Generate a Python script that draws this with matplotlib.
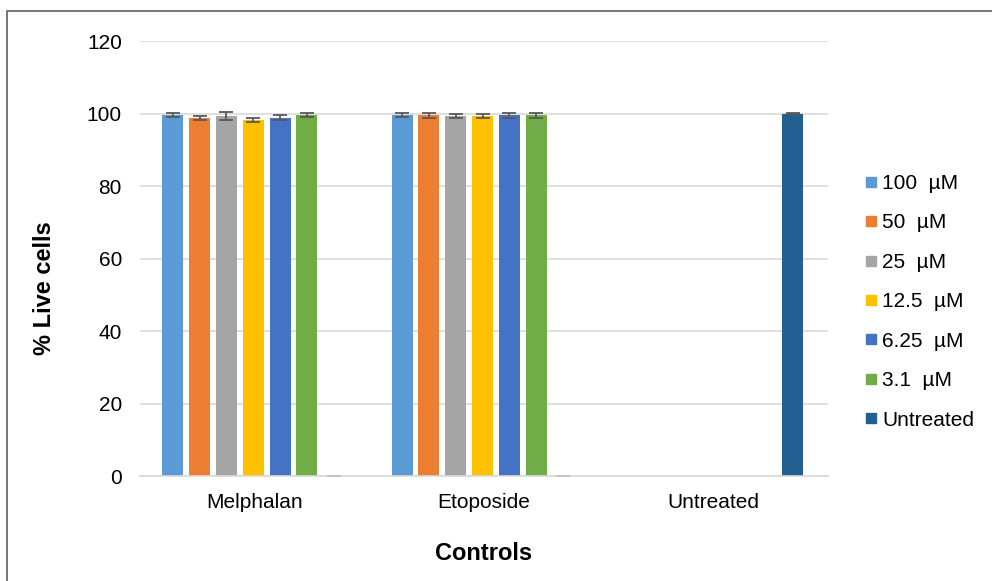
import numpy as np
import matplotlib
matplotlib.use('Agg')
import matplotlib.pyplot as plt
from matplotlib.lines import Line2D
from matplotlib.patches import Rectangle

plt.rcParams['font.family'] = ['Liberation Sans', 'DejaVu Sans']

categories = ['Melphalan', 'Etoposide', 'Untreated']
series = ['100  µM', '50  µM', '25  µM', '12.5  µM', '6.25  µM', '3.1  µM', 'Untreated']
colors = ['#5b9bd5', '#ed7d31', '#a5a5a5', '#ffc000', '#4472c4', '#70ad47', '#255e91']

# values per series: [Melphalan, Etoposide, Untreated]
vals_100 = [99.6, 99.6, np.nan]
vals_50 = [98.7, 99.5, np.nan]
vals_25 = [99.4, 99.4, np.nan]
vals_12 = [98.3, 99.4, np.nan]
vals_6 = [98.9, 99.5, np.nan]
vals_3 = [99.6, 99.5, np.nan]
vals_unt = [0, 0, 100]
err_100 = [0.6, 0.6, np.nan]
err_50 = [0.6, 0.6, np.nan]
err_25 = [1.1, 0.6, np.nan]
err_12 = [0.6, 0.6, np.nan]
err_6 = [0.6, 0.6, np.nan]
err_3 = [0.6, 0.6, np.nan]
err_unt = [0, 0, 0.1]

values = [vals_100, vals_50, vals_25, vals_12, vals_6, vals_3, vals_unt]
errors = [err_100, err_50, err_25, err_12, err_6, err_3, err_unt]

fig = plt.figure(figsize=(9.92, 5.81), dpi=100)
ax = fig.add_axes([0.1411, 0.1807, 0.6936, 0.7487])

x = np.arange(len(categories))
pitch = 0.1171
width = 0.0917
for i, (v, e) in enumerate(zip(values, errors)):
    pos = x + (i - 3) * pitch - 0.006
    ax.bar(pos, v, width=width, color=colors[i], zorder=2)
    ax.errorbar(pos, v, yerr=e, fmt='none', ecolor='#595959', elinewidth=1.3,
                capsize=5, capthick=1.3, zorder=3)

ax.set_xlim(-0.5, 2.5)
ax.set_ylim(0, 120)
ax.set_yticks(range(0, 121, 20))
ax.set_xticks(x)
ax.set_xticklabels(categories)
ax.tick_params(axis='both', length=0, labelsize=15, colors='#000000')
ax.tick_params(axis='x', pad=12)
ax.tick_params(axis='y', pad=13)
ax.yaxis.grid(True, color='#d9d9d9', linewidth=1.2, zorder=0)
ax.set_axisbelow(True)
for s in ['top', 'right', 'left']:
    ax.spines[s].set_visible(False)
ax.spines['bottom'].set_color('#d9d9d9')
ax.spines['bottom'].set_linewidth(1.2)
ax.spines['bottom'].set_zorder(4)

ax.set_ylabel('% Live cells', fontsize=17, fontweight='bold')
ax.yaxis.set_label_coords(-0.122, 0.432)
ax.set_xlabel('Controls', fontsize=17, fontweight='bold', labelpad=22)

handles = [Line2D([0], [0], marker='s', linestyle='none', markersize=7.2,
                  markerfacecolor=c, markeredgecolor=c) for c in colors]
fig.legend(handles, series, loc='center left', bbox_to_anchor=(0.862, 0.4805),
           frameon=False, fontsize=15, handlelength=0.55, handletextpad=0.25,
           labelspacing=0.98, borderpad=0)

# outer chart border (cropped on right and bottom)
fig.patches.append(Rectangle((7 / 992, -0.1), 1.2, 1 - 11 / 581 + 0.1,
                             transform=fig.transFigure, fill=False,
                             edgecolor='#5a6272', linewidth=1.2))

fig.savefig('out.png', dpi=100)
